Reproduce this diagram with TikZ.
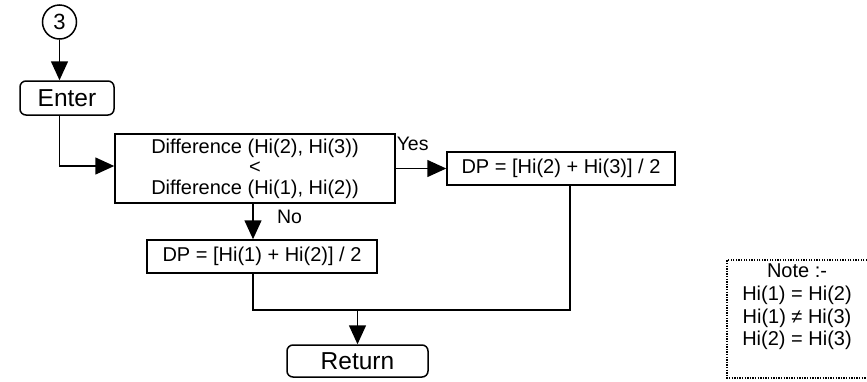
\documentclass[tikz,border=0pt]{standalone}
\usepackage{fontspec}
\setmainfont{Liberation Sans}
\usetikzlibrary{arrows.meta}
\begin{document}
\begin{tikzpicture}[x=1pt,y=-1pt, line width=1.5pt,
  box/.style={draw, inner sep=0pt, font=\fontsize{20}{20.5}\selectfont},
  term/.style={draw, rounded corners=6pt, inner sep=0pt, font=\fontsize{24.5}{26}\selectfont},
  lbl/.style={inner sep=0pt, font=\fontsize{19.5}{20}\selectfont},
  arr/.style={-{Triangle[length=19pt,width=17pt]}},
  notebox/.style={line width=1.3pt, dash pattern=on 1.3pt off 1.3pt}]
\useasboundingbox (0,0) rectangle (867,381);
\node[draw, circle, minimum size=34pt, inner sep=0pt, font=\fontsize{22}{24}\selectfont] (c3) at (59.5,22) {3};
\node[term, minimum width=94pt, minimum height=34pt] (enter) at (67,98) {Enter};
\node[box, minimum width=280pt, minimum height=69pt, align=center] (dec) at (255,168.5) {Difference (Hi(2), Hi(3))\\<\\Difference (Hi(1), Hi(2))};
\node[box, minimum width=228pt, minimum height=33pt] (dp2) at (561,168.5) {DP = [Hi(2) + Hi(3)] / 2};
\node[box, minimum width=230pt, minimum height=33pt] (dp1) at (262,256.5) {DP = [Hi(1) + Hi(2)] / 2};
\node[term, minimum width=141pt, minimum height=32pt] (ret) at (357.5,361) {Return};
\node[lbl, anchor=west] (yes) at (396,144) {Yes};
\node[lbl] (no) at (289.5,216.5) {No};
\node[lbl, align=center, font=\fontsize{20}{22.7}\selectfont] (note) at (797,307) {Note :-\\Hi(1) = Hi(2)\\Hi(1) ≠ Hi(3)\\Hi(2) = Hi(3)};
\coordinate (nx) at (253,0);
\coordinate (rx) at (570,310);
\draw[arr] (c3.south) -- (c3.south |- enter.north);
\draw[arr] (c3.south |- enter.south) |- ([yshift=2.5pt]dec.west);
\draw[arr] (dp2.west -| dec.east) -- (dp2.west);
\draw[arr] (dec.south -| nx) -- (dp1.north -| nx);
\draw (dp1.south -| nx) |- (rx) -- (dp2.south -| rx);
\draw[arr] (ret.north |- rx) -- (ret.north);
\draw[notebox] (867,260) -- (727,260) -- (727,378) -- (867,378);
\end{tikzpicture}
\end{document}
